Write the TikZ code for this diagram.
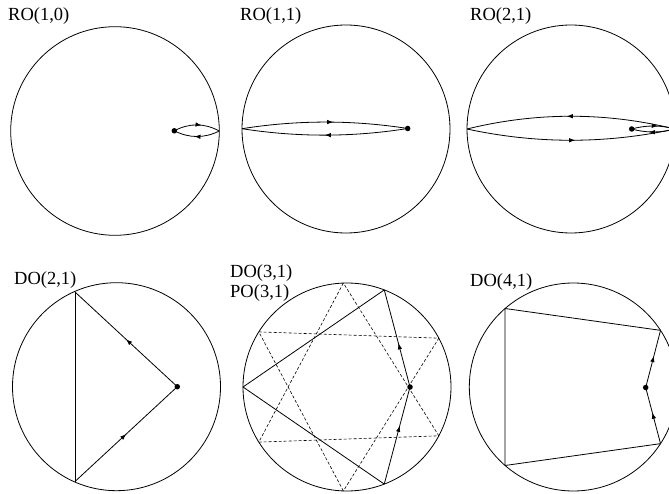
\documentclass[tikz,border=0pt]{standalone}
\usepackage{fontspec}
\setmainfont{Liberation Serif}
\usetikzlibrary{calc,arrows.meta,decorations.markings}
\tikzset{
  rim/.style={line width=0.8pt},
  orbit/.style={line width=0.8pt},
  po/.style={line width=0.6pt,dash pattern=on 3pt off 2pt},
  midarrow/.style={postaction={decorate},decoration={markings,mark=at position #1 with {\arrow{Latex[length=6pt,width=4.5pt]}}}},
  dotpt/.style={circle,fill=black,inner sep=0pt,minimum size=5.5pt},
  lbl/.style={anchor=base west,inner sep=0pt,font=\fontsize{18.5}{21}\selectfont}
}
\begin{document}
\begin{tikzpicture}[x=1pt,y=-1pt]
\useasboundingbox (0,0) rectangle (669,494);
\clip (0,0) rectangle (669,494);
% ---------- labels
\node[lbl] (l1) at (8,21) {RO(1,0)};
\node[lbl] (l2) at (240,21) {RO(1,1)};
\node[lbl] (l3) at (470,21) {RO(2,1)};
\node[lbl] (l4) at (14,284) {DO(2,1)};
\node[lbl] (l5) at (230,277) {DO(3,1)};
\node[lbl] (l6) at (230,298) {PO(3,1)};
\node[lbl] (l7) at (470,287) {DO(4,1)};
% ---------- RO(1,0)
\coordinate (c1) at (115,131);
\draw[rim] (c1) circle (104.3);
\coordinate (d1) at (174.3,130.8);
\coordinate (e1) at (219.3,131);
\draw[orbit,midarrow=0.6] (d1) .. controls ($(d1)!1/3!(e1)+(0,-8)$) and ($(d1)!2/3!(e1)+(0,-8)$) .. (e1);
\draw[orbit,midarrow=0.55] (e1) .. controls ($(d1)!2/3!(e1)+(0,7.5)$) and ($(d1)!1/3!(e1)+(0,7.5)$) .. (d1);
\node[dotpt] (p1) at (d1) {};
% ---------- RO(1,1)
\coordinate (c2) at (346,129);
\draw[rim] (c2) circle (104);
\coordinate (d2) at (407.7,128.5);
\coordinate (e2) at (242,128.7);
\draw[orbit,midarrow=0.55] (e2) .. controls ($(e2)!1/3!(d2)+(0,-8.7)$) and ($(e2)!2/3!(d2)+(0,-8.7)$) .. (d2);
\draw[orbit,midarrow=0.5] (d2) .. controls ($(e2)!2/3!(d2)+(0,8.7)$) and ($(e2)!1/3!(d2)+(0,8.7)$) .. (e2);
\node[dotpt] (p2) at (d2) {};
% ---------- RO(2,1)
\coordinate (c3) at (571,129);
\draw[rim] (c3) circle (104);
\coordinate (d3) at (631.7,129);
\coordinate (r3) at (675,129);
\coordinate (e3) at (467,129);
\draw[orbit,midarrow=0.52] (r3) .. controls ($(e3)!2/3!(r3)+(0,-17)$) and ($(e3)!1/3!(r3)+(0,-17)$) .. (e3);
\draw[orbit,midarrow=0.52] (e3) .. controls ($(e3)!1/3!(r3)+(0,15)$) and ($(e3)!2/3!(r3)+(0,15)$) .. (r3);
\draw[orbit,midarrow=0.6] (d3) .. controls ($(d3)!1/3!(r3)+(0,-4)$) and ($(d3)!2/3!(r3)+(0,-4)$) .. (r3);
\draw[orbit,midarrow=0.6] (r3) .. controls ($(d3)!2/3!(r3)+(0,4)$) and ($(d3)!1/3!(r3)+(0,4)$) .. (d3);
\node[dotpt] (p3) at (d3) {};
% ---------- DO(2,1)
\coordinate (c4) at (116.5,386.7);
\draw[rim] (c4) circle (104);
\coordinate (d4) at (177.3,386.7);
\coordinate (u4) at (75,292);
\coordinate (w4) at (75,481.5);
\draw[orbit,midarrow=0.5] (d4) -- (u4);
\draw[orbit] (u4) -- (w4);
\draw[orbit,midarrow=0.5] (w4) -- (d4);
\node[dotpt] (p4) at (d4) {};
% ---------- DO(3,1) / PO(3,1)
\coordinate (c5) at (347,387);
\draw[rim] (c5) circle (104);
\foreach \a/\n in {92/a1,212/a2,332/a3,268/b1,148/b2,28/b3}
  \coordinate (\n) at ($(c5)+({104*cos(\a)},{-104*sin(\a)})$);
\draw[po] (a1) -- (a2) -- (a3) -- cycle;
\draw[po] (b1) -- (b2) -- (b3) -- cycle;
\coordinate (d5) at (410,387);
\coordinate (u5) at ($(c5)+({104*cos(69)},{-104*sin(69)})$);
\coordinate (m5) at ($(c5)+(-104,0)$);
\coordinate (w5) at ($(c5)+({104*cos(69)},{104*sin(69)})$);
\draw[orbit,midarrow=0.45] (d5) -- (u5);
\draw[orbit] (u5) -- (m5) -- (w5);
\draw[orbit,midarrow=0.6] (w5) -- (d5);
\node[dotpt] (p5) at (d5) {};
% ---------- DO(4,1)
\coordinate (c6) at (573.3,387);
\draw[rim] (c6) circle (104);
\coordinate (d6) at (645.7,387.5);
\coordinate (q1) at ($(c6)+({104*cos(33)},{-104*sin(33)})$);
\coordinate (q2) at ($(c6)+({104*cos(131)},{-104*sin(131)})$);
\coordinate (q3) at ($(c6)+({104*cos(131)},{104*sin(131)})$);
\coordinate (q4) at ($(c6)+({104*cos(33)},{104*sin(33)})$);
\draw[orbit,midarrow=0.55] (d6) -- (q1);
\draw[orbit] (q1) -- (q2) -- (q3) -- (q4);
\draw[orbit,midarrow=0.55] (q4) -- (d6);
\node[dotpt] (p6) at (d6) {};
\end{tikzpicture}
\end{document}
